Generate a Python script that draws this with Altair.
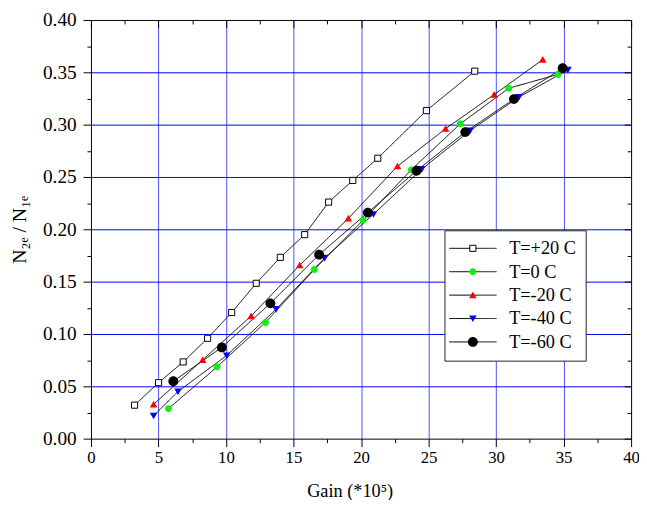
import altair as alt
import pandas as pd

FONT = "Liberation Serif"

series_names = ["T=+20 C", "T=0 C", "T=-20 C", "T=-40 C", "T=-60 C"]

gain_p20 = [3.23, 5.01, 6.83, 8.64, 10.42, 12.24, 14.02, 15.83, 17.6, 19.39, 21.24, 24.84, 28.42]
ratio_p20 = [0.032, 0.0535, 0.0733, 0.0959, 0.1205, 0.1484, 0.1732, 0.1949, 0.226, 0.2467, 0.2679, 0.3134, 0.3511]

gain_0 = [5.74, 9.34, 12.92, 16.54, 20.16, 23.72, 27.35, 30.94, 34.59]
ratio_0 = [0.0287, 0.0686, 0.111, 0.1616, 0.2088, 0.2568, 0.3008, 0.3348, 0.348]

gain_m20 = [4.64, 8.27, 11.86, 15.46, 19.06, 22.7, 26.26, 29.86, 33.46]
ratio_m20 = [0.0328, 0.0752, 0.1171, 0.1657, 0.2104, 0.2603, 0.2961, 0.3287, 0.3621]

gain_m40 = [4.64, 6.45, 10.05, 13.71, 17.31, 20.92, 24.5, 28.08, 31.69, 35.32]
ratio_m40 = [0.0219, 0.0451, 0.0794, 0.1237, 0.1727, 0.2144, 0.2575, 0.2943, 0.3263, 0.3523]

gain_m60 = [6.1, 9.69, 13.29, 16.9, 20.5, 24.11, 27.72, 31.32, 34.93]
ratio_m60 = [0.0549, 0.0872, 0.1293, 0.1758, 0.216, 0.2559, 0.2929, 0.3244, 0.3539]

x_major = [0, 5, 10, 15, 20, 25, 30, 35, 40]
x_minor = [2.5, 7.5, 12.5, 17.5, 22.5, 27.5, 32.5, 37.5]
x_grid = [5, 10, 15, 20, 25, 30, 35]
y_major = [0.0, 0.05, 0.10, 0.15, 0.20, 0.25, 0.30, 0.35, 0.40]
y_minor = [0.025, 0.075, 0.125, 0.175, 0.225, 0.275, 0.325, 0.375]
y_grid = [0.05, 0.10, 0.15, 0.20, 0.25, 0.30, 0.35]

marker_fill = ["white", "#11ee11", "#ff0000", "#0000ff", "#000000"]
marker_stroke = ["black", "transparent", "transparent", "transparent", "transparent"]
# marker outlines in units of 5 px (symbol size 100 -> sqrt/2 = 5)
marker_paths = [
    "M-0.62,-0.62H0.62V0.62H-0.62Z",
    "M-0.7,0A0.7,0.7,0,1,0,0.7,0A0.7,0.7,0,1,0,-0.7,0Z",
    "M0,-0.72L0.77,0.62L-0.77,0.62Z",
    "M0,0.72L0.77,-0.62L-0.77,-0.62Z",
    "M-1,0A1,1,0,1,0,1,0A1,1,0,1,0,-1,0Z",
]
legend_line_path = "M-4.8,0H4.8"

rows = []
for name, gs, rs in zip(series_names,
                        [gain_p20, gain_0, gain_m20, gain_m40, gain_m60],
                        [ratio_p20, ratio_0, ratio_m20, ratio_m40, ratio_m60]):
    for g, r in zip(gs, rs):
        rows.append({"series": name, "gain": g, "ratio": r})
df = pd.DataFrame(rows)

W, H = 547, 424

xs = alt.Scale(domain=[0, 40], nice=False, zero=False)
ys = alt.Scale(domain=[0, 0.4], nice=False, zero=False)

base = alt.Chart(df)

common_tick = dict(tickColor="black", tickWidth=1, labels=False, title=None, grid=False, zindex=1)

grid_x = alt.Axis(orient="bottom", values=x_grid, grid=True, gridColor="#4d4dff", gridWidth=1,
                  gridOpacity=1, domain=False, ticks=False, labels=False, title=None)
grid_y = alt.Axis(orient="left", values=y_grid, grid=True, gridColor="#0000ff", gridWidth=1,
                  gridOpacity=1, domain=False, ticks=False, labels=False, title=None)

main_x = alt.Axis(orient="bottom", values=x_major, format="d", grid=False,
                  tickSize=8, tickColor="black", tickWidth=1,
                  domain=True, domainColor="black", domainWidth=1,
                  labelFont=FONT, labelFontSize=17, labelColor="black", labelPadding=3,
                  labelFlush=False, labelOverlap=False,
                  title="Gain (*10\u2075)", titleFont=FONT, titleFontSize=18.5,
                  titleFontWeight="normal", titleColor="black",
                  titleX=262, titleY=53, titleBaseline="middle", titleAlign="center",
                  zindex=1)
main_y = alt.Axis(orient="left", values=y_major, format=".2f", grid=False,
                  tickSize=8, tickColor="black", tickWidth=1,
                  domain=True, domainColor="black", domainWidth=1,
                  labelFont=FONT, labelFontSize=19.5, labelColor="black", labelPadding=7,
                  labelFlush=False, labelOverlap=False,
                  title="N\u2082\u2091 / N\u2081\u2091", titleFont=FONT, titleFontSize=20,
                  titleFontWeight="normal", titleColor="black",
                  titleX=-72, titleY=212, titleAngle=270, titleBaseline="middle",
                  titleAlign="center", zindex=1)

minor_x = alt.Axis(orient="bottom", values=x_minor, tickSize=4, domain=False, **common_tick)
minor_y = alt.Axis(orient="left", values=y_minor, tickSize=4, domain=False, **common_tick)

top_major = alt.Axis(orient="bottom", offset=-H, values=x_major, tickSize=8, domain=True,
                     domainColor="black", domainWidth=1, **common_tick)
right_major = alt.Axis(orient="left", offset=-W, values=y_major, tickSize=7, domain=True,
                       domainColor="black", domainWidth=1, **common_tick)
top_minor = alt.Axis(orient="bottom", offset=-H, values=x_minor, tickSize=4, domain=False, **common_tick)
right_minor = alt.Axis(orient="left", offset=-W, values=y_minor, tickSize=4, domain=False, **common_tick)

LEG_X, LEG_Y = 358, 213
leg_common = dict(title=None, orient="none", legendX=LEG_X, legendY=LEG_Y, padding=9,
                  rowPadding=4.7, symbolSize=100, symbolStrokeWidth=1,
                  symbolOffset=10.5, labelOffset=27.5, labelFont=FONT, labelFontSize=18.5)

legend_lines = alt.Legend(symbolType=legend_line_path, symbolStrokeColor="black",
                          labelColor="black", strokeColor="#222222", fillColor="white",
                          zindex=1, **leg_common)
legend_marks = alt.Legend(labelOpacity=0, labelColor="black", zindex=2, **leg_common)

lines = base.mark_line(color="black", strokeWidth=1).encode(
    x=alt.X("gain:Q", scale=xs, axis=grid_x),
    y=alt.Y("ratio:Q", scale=ys, axis=grid_y),
    strokeDash=alt.StrokeDash("series:N",
                              scale=alt.Scale(domain=series_names, range=[[1, 0]] * 5),
                              legend=legend_lines),
)

points = base.mark_point(filled=True, opacity=1, size=100, strokeWidth=1).encode(
    x=alt.X("gain:Q", scale=xs, axis=main_x),
    y=alt.Y("ratio:Q", scale=ys, axis=main_y),
    shape=alt.Shape("series:N", scale=alt.Scale(domain=series_names, range=marker_paths),
                    legend=legend_marks),
    fill=alt.Fill("series:N", scale=alt.Scale(domain=series_names, range=marker_fill),
                  legend=legend_marks),
    stroke=alt.Stroke("series:N", scale=alt.Scale(domain=series_names, range=marker_stroke),
                      legend=legend_marks),
)

inv1 = base.mark_point(opacity=0).encode(
    x=alt.X("gain:Q", scale=xs, axis=minor_x),
    y=alt.Y("ratio:Q", scale=ys, axis=minor_y),
)
inv2 = base.mark_point(opacity=0).encode(
    x=alt.X("gain:Q", scale=xs, axis=top_major),
    y=alt.Y("ratio:Q", scale=ys, axis=right_major),
)
inv3 = base.mark_point(opacity=0).encode(
    x=alt.X("gain:Q", scale=xs, axis=top_minor),
    y=alt.Y("ratio:Q", scale=ys, axis=right_minor),
)

chart = alt.layer(lines, points, inv1, inv2, inv3).resolve_axis(
    x="independent", y="independent"
).resolve_legend(
    strokeDash="independent", fill="independent", shape="independent", stroke="independent"
).properties(
    width=W, height=H,
    padding={"left": 84, "top": 9, "right": 8, "bottom": 59},
    autosize=alt.AutoSizeParams(type="none"),
    background="white",
).configure_view(stroke=None)

chart.save("out.html", embed_options={"renderer": "svg", "actions": False})
